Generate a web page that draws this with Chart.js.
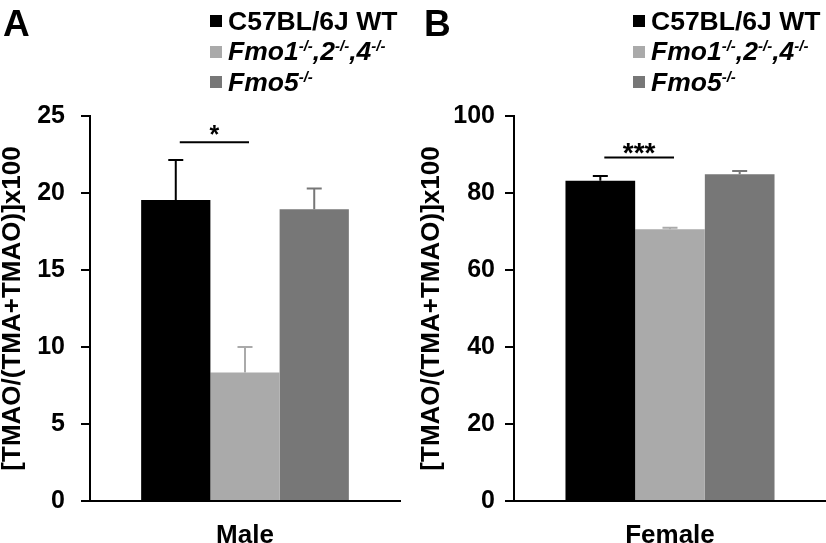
<!DOCTYPE html>
<html>
<head>
<meta charset="utf-8">
<script src="https://cdn.jsdelivr.net/npm/chart.js@4.4.1/dist/chart.umd.min.js"></script>
<style>
  body { margin: 0; background: #fff; font-family: 'Liberation Sans', Arial, sans-serif; }
  #wrap { position: relative; width: 826px; height: 543px; overflow: hidden; }
  canvas { position: absolute; top: 0; }
  .panel { position: absolute; top: 5px; font-weight: bold; font-size: 37px; line-height: 1; }
  .legend { position: absolute; top: 6px; font-weight: bold; font-size: 26.5px; }
  .legend div { display: flex; align-items: center; height: 30.5px; white-space: nowrap; }
  .legend .sw { width: 12px; height: 12px; margin-right: 6px; flex: none; }
  .legend sup { font-size: 15px; vertical-align: 0; position: relative; top: -9px; }
</style>
</head>
<body>
<div id="wrap">
  <canvas id="chartMale" width="413" height="543" style="left:0"></canvas>
  <canvas id="chartFemale" width="413" height="543" style="left:413px"></canvas>
  <div class="panel" style="left:3px">A</div>
  <div class="panel" style="left:424px">B</div>
  <div class="legend" id="legendMale" style="left:210px"></div>
  <div class="legend" id="legendFemale" style="left:633px"></div>
</div>
<script>
// groups (legend) and colours
const groups = ['C57BL/6J WT', 'Fmo1-/-,2-/-,4-/-', 'Fmo5-/-'];
const groupColors = ['#000000', '#aaaaaa', '#777777'];

// panel A - male
const maleMeans = [19.55, 8.35, 18.95];
const maleErrors = [2.6, 1.65, 1.35];
const maleTicks = { max: 25, step: 5 };
const maleSig = { from: 0, to: 1, level: 23.3, label: '*' };

// panel B - female
const femaleMeans = [83.2, 70.6, 84.9];
const femaleErrors = [1.2, 0.4, 0.8];
const femaleTicks = { max: 100, step: 20 };
const femaleSig = { from: 0, to: 1, level: 89.2, label: '***' };

const yTitle = '[TMAO/(TMA+TMAO)]x100';
const FONT = "'Liberation Sans', Arial, sans-serif";

const barExtras = {
    id: 'barExtras',
    afterDatasetsDraw(chart, args, opts) {
        const ctx = chart.ctx;
        const y = chart.scales.y;
        ctx.save();
        ctx.lineWidth = 2;
        chart.data.datasets.forEach((ds, i) => {
            const bar = chart.getDatasetMeta(i).data[0];
            const top = y.getPixelForValue(ds.data[0] + ds.errors[0]);
            ctx.strokeStyle = ds.backgroundColor;
            ctx.beginPath();
            ctx.moveTo(bar.x, bar.y);
            ctx.lineTo(bar.x, top);
            ctx.moveTo(bar.x - 7.5, top);
            ctx.lineTo(bar.x + 7.5, top);
            ctx.stroke();
        });
        // significance bracket
        const s = opts.sig;
        const x1 = chart.getDatasetMeta(s.from).data[0].x + 4;
        const x2 = chart.getDatasetMeta(s.to).data[0].x + 4;
        const ly = y.getPixelForValue(s.level);
        ctx.strokeStyle = '#000';
        ctx.beginPath();
        ctx.moveTo(x1, ly);
        ctx.lineTo(x2, ly);
        ctx.stroke();
        ctx.fillStyle = '#000';
        ctx.font = 'bold ' + opts.starSize + 'px ' + FONT;
        ctx.textAlign = 'center';
        ctx.textBaseline = 'alphabetic';
        ctx.fillText(s.label, (x1 + x2) / 2, ly + opts.starDrop);
        ctx.restore();
    }
};

function makeChart(id, category, means, errors, ticks, sig, lay) {
    return new Chart(document.getElementById(id), {
        type: 'bar',
        data: {
            labels: [category],
            datasets: groups.map((g, i) => ({
                label: g,
                data: [means[i]],
                errors: [errors[i]],
                backgroundColor: groupColors[i],
                borderWidth: 0,
                barPercentage: 1,
                categoryPercentage: 0.67
            }))
        },
        options: {
            responsive: false,
            animation: false,
            layout: { padding: { top: 116, right: lay.padRight, bottom: 0, left: 0 } },
            plugins: {
                legend: { display: false },
                tooltip: { enabled: false },
                barExtras: { sig: sig, starSize: lay.starSize, starDrop: lay.starDrop }
            },
            scales: {
                x: {
                    grid: { display: false },
                    border: { display: true, color: '#000', width: 2 },
                    ticks: { color: '#000', padding: lay.xPad, font: { family: FONT, size: 26, weight: 'bold' } },
                    afterFit: s => { s.height = 42; }
                },
                y: {
                    min: 0,
                    max: ticks.max,
                    ticks: { stepSize: ticks.step, color: '#000', padding: lay.tickPad, font: { family: FONT, size: 25, weight: 'bold' } },
                    grid: { drawOnChartArea: false, drawTicks: true, tickLength: 9, color: '#000', lineWidth: 2 },
                    border: { display: true, color: '#000', width: 2 },
                    title: {
                        display: true, text: yTitle, color: '#000',
                        padding: { top: lay.titlePad, bottom: 0 },
                        font: { family: FONT, size: 26, weight: 'bold', lineHeight: 1 }
                    },
                    afterFit: s => { s.width = lay.yWidth; }
                }
            }
        },
        plugins: [barExtras]
    });
}

function fillLegend(id) {
    document.getElementById(id).innerHTML = groups.map((g, i) => {
        let txt = g.replace(/-\/-/g, '<sup>-/-</sup>');
        if (g.indexOf('Fmo') === 0) txt = '<i>' + txt + '</i>';
        return '<div><span class="sw" style="background:' + groupColors[i] + '"></span>' + txt + '</div>';
    }).join('');
}

makeChart('chartMale', 'Male', maleMeans, maleErrors, maleTicks, maleSig,
    { yWidth: 90, padRight: 13, tickPad: 16, titlePad: 0, xPad: 11, starSize: 25, starDrop: 1 });
makeChart('chartFemale', 'Female', femaleMeans, femaleErrors, femaleTicks, femaleSig,
    { yWidth: 101, padRight: 0, tickPad: 10, titlePad: 6, xPad: 11, starSize: 28, starDrop: 4 });
fillLegend('legendMale');
fillLegend('legendFemale');
</script>
</body>
</html>
